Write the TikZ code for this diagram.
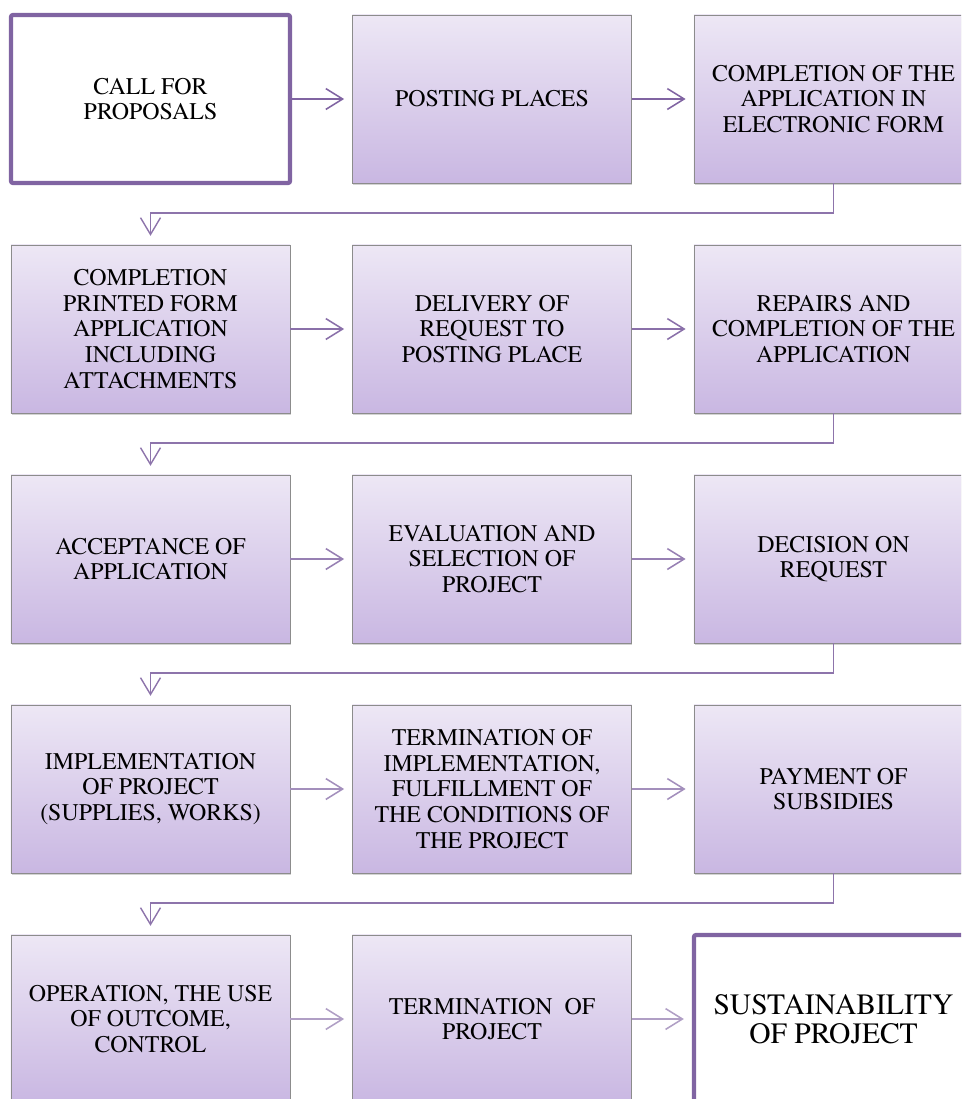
\documentclass[tikz,border=0pt]{standalone}
\usepackage{fontspec}
\setmainfont{TeX Gyre Termes}
\usepackage{tikz}
\usepackage{xcolor}
\usetikzlibrary{arrows.meta,positioning,calc,shadows}
\definecolor{procviolet}{HTML}{8064A2}
\definecolor{proctop}{HTML}{EDE7F5}
\definecolor{procbot}{HTML}{C9B7E2}
\definecolor{procedge}{HTML}{8C8C8C}

\begin{document}
\begin{tikzpicture}[x=0.025cm,y=-0.025cm,
  every node/.style={font=\fontsize{17}{18.3}\selectfont,align=center,inner sep=0pt},
  procbox/.style={draw=procedge,line width=0.5pt,top color=proctop,bottom color=procbot,
    minimum width=6.975cm,minimum height=4.2cm,
    drop shadow={shadow xshift=0.6pt,shadow yshift=-1.3pt,opacity=0.35}},
  procend/.style={draw=procviolet,line width=3pt,fill=white,rounded corners=1.5pt,
    minimum width=6.975cm,minimum height=4.2cm},
  procarrow/.style={line width=1.1pt,-{Straight Barb[length=0.42cm,width=0.52cm]},shorten >=0.2cm},
  procelbow/.style={draw=procviolet!90,line width=1pt,-{Straight Barb[length=0.42cm,width=0.5cm]},shorten >=0.22cm}]
  \useasboundingbox (0,0) rectangle (961,1099);
  \clip (0,0) rectangle (961,1099);
  % ligne 1
  \node[procend] (call) at (150.5,99) {CALL FOR\\PROPOSALS};
  \node[procbox] (posting) at (492,99) {POSTING PLACES};
  \node[procbox] (eform) at (833.5,99) {COMPLETION OF THE\\APPLICATION IN\\ELECTRONIC FORM};
  % ligne 2
  \node[procbox] (printed) at (150.5,329) {COMPLETION\\PRINTED FORM\\APPLICATION\\INCLUDING\\ATTACHMENTS};
  \node[procbox] (delivery) at (492,329) {DELIVERY OF\\REQUEST TO\\POSTING PLACE};
  \node[procbox] (repairs) at (833.5,329) {REPAIRS AND\\COMPLETION OF THE\\APPLICATION};
  % ligne 3
  \node[procbox] (accept) at (150.5,559) {ACCEPTANCE OF\\APPLICATION};
  \node[procbox] (evalsel) at (492,559) {EVALUATION AND\\SELECTION OF\\PROJECT};
  \node[procbox] (decision) at (833.5,559) {DECISION ON\\REQUEST};
  % ligne 4
  \node[procbox] (implem) at (150.5,789) {IMPLEMENTATION\\OF PROJECT\\(SUPPLIES, WORKS)};
  \node[procbox] (termimpl) at (492,789) {TERMINATION OF\\IMPLEMENTATION,\\FULFILLMENT OF\\THE CONDITIONS OF\\THE PROJECT};
  \node[procbox] (payment) at (833.5,789) {PAYMENT OF\\SUBSIDIES};
  % ligne 5
  \node[procbox] (operation) at (150.5,1019) {OPERATION, THE USE\\OF OUTCOME,\\CONTROL};
  \node[procbox] (termproj) at (492,1019) {TERMINATION\ \ OF\\PROJECT};
  \node[procend,font=\fontsize{21}{20.5}\selectfont] (sustain) at (833.5,1019) {SUSTAINABILITY\\OF PROJECT};
  % flèches horizontales
  \foreach \a/\b/\c in {call/posting/100,posting/eform/100,printed/delivery/92,delivery/repairs/92,
      accept/evalsel/82,evalsel/decision/82,implem/termimpl/72,termimpl/payment/72,
      operation/termproj/62,termproj/sustain/62}
    \draw[procarrow,procviolet!\c!white] (\a.east) -- (\b.west);
  % retours à la ligne
  \foreach \a/\b in {eform/printed,repairs/accept,decision/implem,payment/operation}
    \draw[procelbow] (\a.south) -- ++(0,29.5) -| (\b.north);
\end{tikzpicture}
\end{document}
